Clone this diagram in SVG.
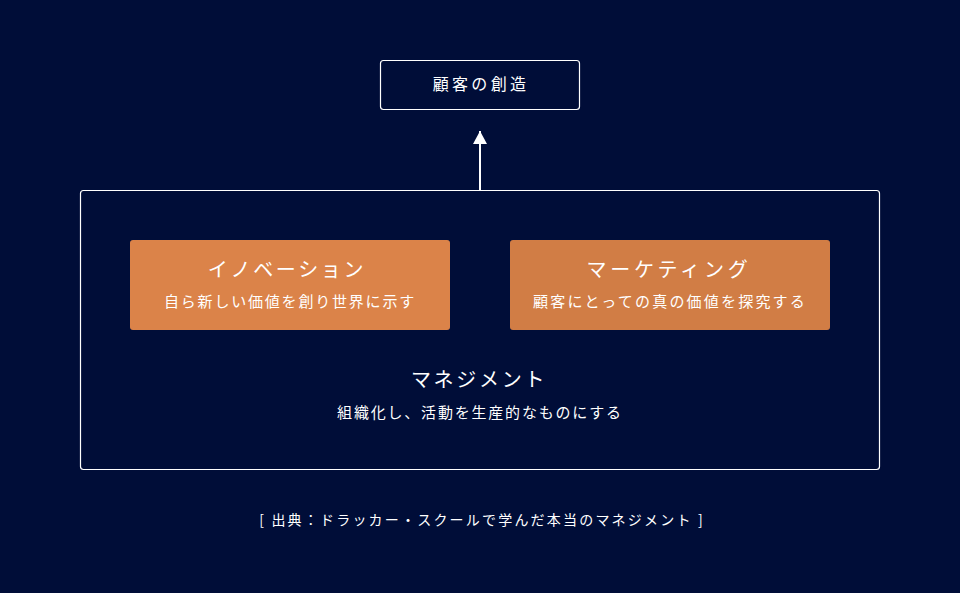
<svg xmlns="http://www.w3.org/2000/svg" width="960" height="593" viewBox="0 0 960 593">
<defs>
<style>
text{font-family:"Noto Sans CJK JP","Noto Sans",sans-serif;fill:#ffffff;text-anchor:middle}
.frame{fill:none;stroke:#ffffff;stroke-width:1.2}
.t20{font-size:20px;letter-spacing:2.7px}
.t15{font-size:15px;letter-spacing:1.8px}
.t16{font-size:16px;letter-spacing:3.3px}
</style>
<marker id="ah" markerWidth="13" markerHeight="14" refX="13" refY="7" viewBox="0 0 13 14" orient="auto" markerUnits="userSpaceOnUse">
<path d="M0,0 L13,7 L0,14 Z" fill="#ffffff"/>
</marker>
</defs>
<rect width="960" height="593" fill="#000d38"/>
<g id="management">
<rect class="frame" x="80.5" y="190.5" width="799" height="279" rx="3"/>
<text class="t20" x="479" y="387">マネジメント</text>
<text class="t15" x="480" y="418">組織化し、活動を生産的なものにする</text>
</g>
<g id="creation">
<rect class="frame" x="380.5" y="60.5" width="199" height="49" rx="3"/>
<text class="t16" x="481" y="90">顧客の創造</text>
</g>
<g id="innovation">
<rect x="130" y="240" width="320" height="90" rx="3" fill="#db8349"/>
<text class="t20" x="287" y="277">イノベーション</text>
<text class="t15" x="290" y="307">自ら新しい価値を創り世界に示す</text>
</g>
<g id="marketing">
<rect x="510" y="240" width="320" height="90" rx="3" fill="#d17d45"/>
<text class="t20" style="letter-spacing:3.8px" x="669" y="277">マーケティング</text>
<text class="t15" style="letter-spacing:2.2px" x="670" y="307">顧客にとっての真の価値を探究する</text>
</g>
<g id="connectors">
<line x1="480" y1="190" x2="480" y2="131" stroke="#ffffff" stroke-width="2" marker-end="url(#ah)"/>
</g>
<text x="482" y="525" style="font-size:14px;letter-spacing:2.2px">[ 出典：ドラッカー・スクールで学んだ本当のマネジメント ]</text>
</svg>
